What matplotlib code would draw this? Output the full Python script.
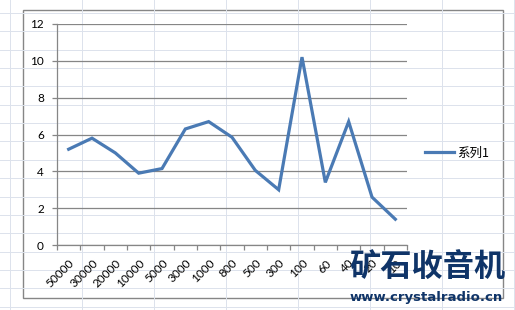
#!/usr/bin/env python

import numpy as np
import matplotlib.pyplot as plt
from matplotlib.patches import Rectangle

W, H = 515, 310

categories = ['50000', '30000', '20000', '10000', '5000', '3000', '1000', '800',
              '500', '300', '100', '60', '40', '20', '10']
values = [5.2, 5.8, 5.0, 3.9, 4.15, 6.3, 6.7, 5.85, 4.05, 3.0, 10.2, 3.4, 6.7, 2.6, 1.4]
series_name = '系列1'

LINE_BLUE = '#4a7ab4'
AXIS_GRAY = '#868686'
CELL_GRID = '#dce2ec'


def px(x, y, w, h):
    # pixel box (top-left origin) -> figure fraction
    return [x / W, 1 - (y + h) / H, w / W, h / H]


def main() -> None:
    plt.rcParams['font.family'] = ['Lato', 'Noto Sans CJK SC', 'DejaVu Sans']
    fig = plt.figure(figsize=(W / 100, H / 100), dpi=100)

    # spreadsheet cells behind the chart
    bg = fig.add_axes([0, 0, 1, 1])
    bg.set_xlim(0, W)
    bg.set_ylim(H, 0)
    bg.axis('off')
    for x in np.arange(10, W + 1, 72):
        bg.axvline(x, color=CELL_GRID, lw=0.7)
    for y in np.arange(13, H + 1, 18.35):
        bg.axhline(y, color=CELL_GRID, lw=0.7)
    bg.add_patch(Rectangle((23, 10), 480, 288, facecolor='white',
                           edgecolor=AXIS_GRAY, lw=1.0))

    ax = fig.add_axes(px(57, 24, 350, 221))
    ax.patch.set_alpha(0)
    xs = np.arange(len(categories))
    ax.plot(xs, values, color=LINE_BLUE, lw=2.3, label=series_name,
            solid_joinstyle='miter')

    ax.set_xlim(-0.5, len(categories) - 0.5)
    ax.set_ylim(0, 12)
    ax.set_yticks(np.arange(0, 13, 2))
    ax.grid(axis='y', color=AXIS_GRAY, lw=0.9)
    ax.set_axisbelow(True)
    for side in ('top', 'right'):
        ax.spines[side].set_visible(False)
    for side in ('left', 'bottom'):
        ax.spines[side].set_color(AXIS_GRAY)
        ax.spines[side].set_linewidth(0.9)

    ax.set_xticks(xs)
    ax.set_xticklabels(categories, rotation=45, ha='right', va='top',
                       rotation_mode='anchor', fontsize=8.5)
    ax.set_xticks(np.arange(-0.5, len(categories)), minor=True)
    ax.tick_params(axis='x', which='major', length=0, pad=9)
    ax.tick_params(axis='x', which='minor', length=3.5, color=AXIS_GRAY, width=0.9)
    ax.tick_params(axis='y', length=3.5, color=AXIS_GRAY, width=0.9,
                   labelsize=8.5, pad=6)

    ax.legend(loc='center left', bbox_to_anchor=(425 / W, 1 - 153 / H),
              bbox_transform=fig.transFigure, frameon=False, handlelength=2.3,
              handletextpad=0.3, borderpad=0, borderaxespad=0,
              prop={'family': ['Noto Sans CJK SC', 'DejaVu Sans'], 'size': 9})

    # site watermark
    fig.text(349 / W, 1 - 268 / H, '矿石收音机', family=['Noto Sans CJK SC'],
             weight='heavy', fontsize=22.5, color='#0f3468', va='center', ha='left')
    fig.text(350 / W, 1 - 298 / H, 'www.crystalradio.cn', family=['DejaVu Sans'],
             weight='bold', fontsize=9.5, color='#0f3468', va='center', ha='left')

    fig.savefig('out.png', dpi=100)


if __name__ == '__main__':
    main()
